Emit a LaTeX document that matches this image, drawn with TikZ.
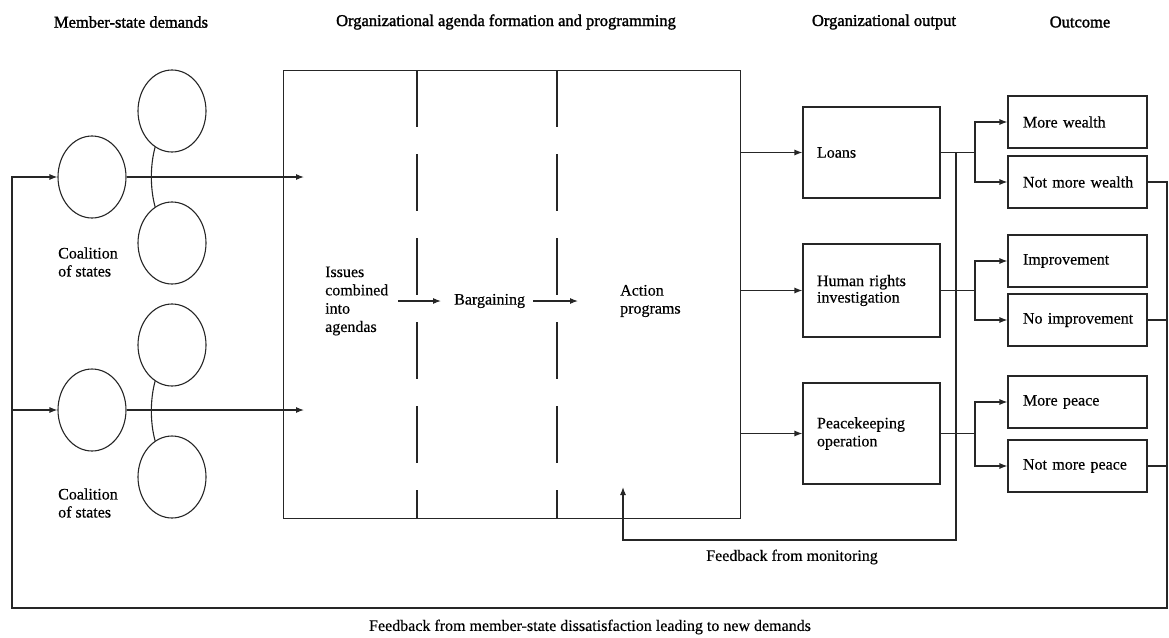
\documentclass[tikz,border=0pt]{standalone}
\usepackage{fontspec}
\setmainfont{Liberation Serif}[FakeBold=0.4]
\newfontfamily\hdfont{Liberation Serif}[FakeBold=1.6]
\usetikzlibrary{arrows.meta,shapes.geometric}
\begin{document}
\begin{tikzpicture}[x=1pt,y=-1pt,
  ln/.style={line width=1.1pt, draw=black!85},
  arr/.style={ln,-{Latex[length=8pt,width=6pt]}},
  txt/.style={font=\fontsize{16}{18}\selectfont, inner sep=0pt, align=left},
  hd/.style={font=\hdfont\fontsize{16.5}{18}\selectfont, inner sep=0pt},
  circ/.style={ellipse, ln, minimum width=68pt, minimum height=82pt, inner sep=0pt},
  outbox/.style={ln, font=\fontsize{16}{17.5}\selectfont, text width=109pt, inner xsep=14pt, inner ysep=0pt, align=left},
  resbox/.style={ln, font=\fontsize{16}{17.5}\selectfont, text width=124pt, inner xsep=7.5pt, inner ysep=0pt, minimum height=52pt, align=left, execute at begin node={\hspace*{7.5pt}}}
]
\useasboundingbox (0,0) rectangle (1169,637);

% headers
\node[hd] (h1) at (131,22) {Member-state demands};
\node[hd] (h2) at (506,22) {Organizational agenda formation and programming};
\node[hd] (h3) at (884,22) {Organizational output};
\node[hd] (h4) at (1080,22) {Outcome};

% coalitions
\node[circ] (c1) at (92,177) {};
\node[circ] (u1) at (172,111) {};
\node[circ] (l1) at (172,243) {};
\node[circ] (c2) at (92,410) {};
\node[circ] (u2) at (172,345) {};
\node[circ] (l2) at (172,477) {};
\draw[ln] (u1.245) .. controls +(-5,18) and +(-5,-18) .. (l1.115);
\draw[ln] (u2.245) .. controls +(-5,18) and +(-5,-18) .. (l2.115);
\node[txt, anchor=west] (k1) at (58,262) {Coalition\\of states};
\node[txt, anchor=west] (k2) at (58,503) {Coalition\\of states};

% agenda box
\node[ln, minimum width=457pt, minimum height=448pt, inner sep=0pt, anchor=north west] (agenda) at (283,70) {};
\draw[ln, dash pattern=on 57pt off 27pt] ([xshift=134pt]agenda.north west) -- ([xshift=134pt]agenda.south west);
\draw[ln, dash pattern=on 57pt off 27pt] ([xshift=274pt]agenda.north west) -- ([xshift=274pt]agenda.south west);

\coordinate (in1) at (304,177);
\coordinate (in2) at (304,410);
\draw[arr] (c1.east) -- (in1);
\draw[arr] (c2.east) -- (in2);

\node[txt, anchor=west, font=\fontsize{16}{18.3}\selectfont] (iss) at (325,301) {Issues\\combined\\into\\agendas};
\node[txt, anchor=west] (barg) at (454,301) {Bargaining};
\node[txt, anchor=west] (act) at (620,301) {Action\\programs};
\draw[arr] ([xshift=10pt]iss.east) -- ([xshift=-13pt]barg.west);
\draw[arr] ([xshift=8pt]barg.east) -- ([xshift=-42pt]act.west);

% outputs
\node[outbox, minimum height=91pt] (loans) at (871.5,152.5) {Loans};
\node[outbox, minimum height=93pt, font=\fontsize{16}{16.5}\selectfont] (hr) at (871.5,290.5) {Human rights\\investigation};
\node[outbox, minimum height=101pt, font=\fontsize{16}{18}\selectfont] (pk) at (871.5,433.5) {Peacekeeping\\operation};
\draw[arr] (agenda.east |- loans.west) -- (loans.west);
\draw[arr] (agenda.east |- hr.west) -- (hr.west);
\draw[arr] (agenda.east |- pk.west) -- (pk.west);

% outcomes
\node[resbox] (mw) at (1077.5,122) {More wealth};
\node[resbox] (nmw) at (1077.5,182) {Not more wealth};
\node[resbox] (imp) at (1077.5,261) {Improvement};
\node[resbox] (nimp) at (1077.5,320) {No improvement};
\node[resbox] (mp) at (1077.5,402) {More peace};
\node[resbox] (nmp) at (1077.5,466) {Not more peace};

\coordinate (bx) at (975,0);
\draw[ln] (loans.east) -- (bx |- loans.east);
\draw[arr] (bx |- loans.east) |- (mw.west);
\draw[arr] (bx |- loans.east) |- (nmw.west);
\draw[ln] (hr.east) -- (bx |- hr.east);
\draw[arr] (bx |- hr.east) |- (imp.west);
\draw[arr] (bx |- hr.east) |- (nimp.west);
\draw[ln] (pk.east) -- (bx |- pk.east);
\draw[arr] (bx |- pk.east) |- (mp.west);
\draw[arr] (bx |- pk.east) |- (nmp.west);

% feedback from monitoring
\coordinate (fx) at (956,0);
\coordinate (fb) at (956,540);
\coordinate (fa) at (623,540);
\coordinate (ftip) at (623,487);
\draw[arr] (fx |- loans.east) -- (fb) -- (fa) -- (ftip);
\node[txt] (fbl) at (792,557) {Feedback from monitoring};

% outer feedback loop
\coordinate (rx) at (1167,0);
\coordinate (rb) at (1167,608);
\coordinate (lb) at (12,608);
\draw[arr] (nmw.east) -- (rx |- nmw.east) -- (rb) -- (lb) -- (lb |- c1.west) -- (c1.west);
\draw[arr] (lb |- c2.west) -- (c2.west);
\draw[ln] (nimp.east) -- (rx |- nimp.east);
\draw[ln] (nmp.east) -- (rx |- nmp.east);
\node[txt] (fbm) at (590,627) {Feedback from member-state dissatisfaction leading to new demands};
\end{tikzpicture}
\end{document}
